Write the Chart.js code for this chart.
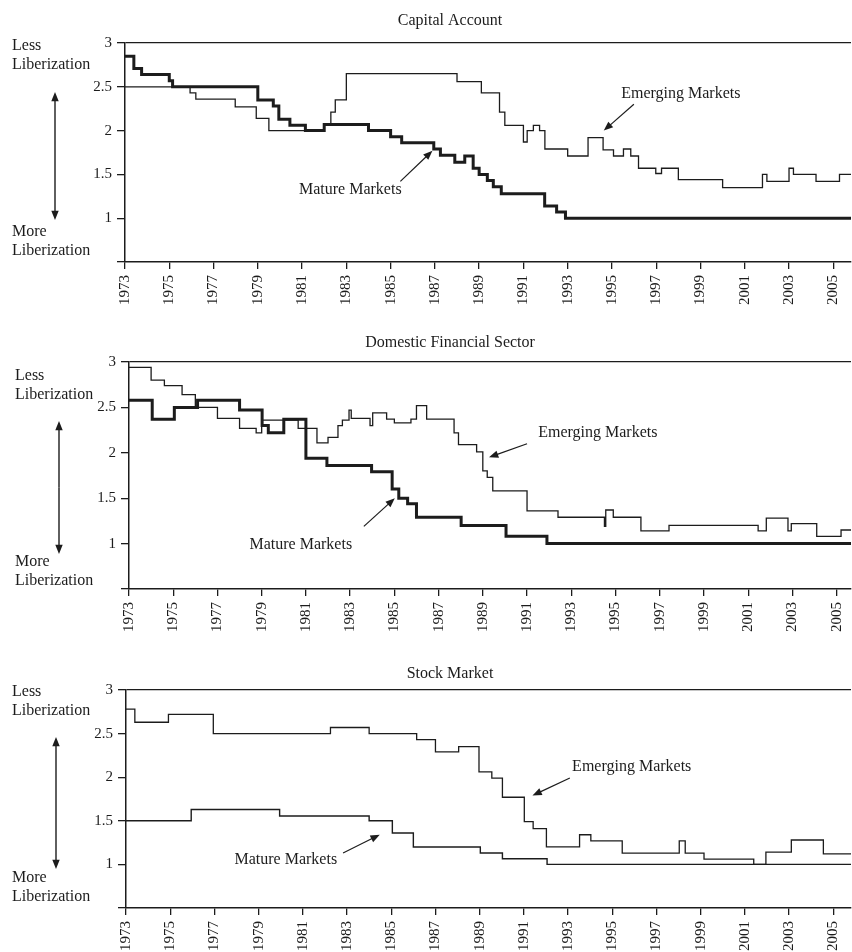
<!DOCTYPE html>
<html>
<head>
<meta charset="utf-8">
<script src="https://cdn.jsdelivr.net/npm/chart.js@4.4.0/dist/chart.umd.min.js"></script>
<style>
  body { margin: 0; background: #fff; }
  .panel { position: absolute; left: 0; width: 852px; }
</style>
</head>
<body>
<div class="panel" style="top:0;height:315px"><canvas id="capitalChart" width="852" height="315"></canvas></div>
<div class="panel" style="top:315px;height:320px"><canvas id="domesticChart" width="852" height="320"></canvas></div>
<div class="panel" style="top:635px;height:317px"><canvas id="stockChart" width="852" height="317"></canvas></div>
<script>
// tick labels
const xTickYears = [1973, 1975, 1977, 1979, 1981, 1983, 1985, 1987, 1989, 1991, 1993, 1995, 1997, 1999, 2001, 2003, 2005];
const yTickValues = [0.5, 1, 1.5, 2, 2.5, 3];

// Capital Account
const capMatureYears = [1973, 1973.4, 1973.75, 1975, 1975.15, 1979, 1979.7, 1979.95, 1980.45, 1981.15, 1982, 1984, 1985, 1985.5, 1986.95, 1987.25, 1987.9, 1988.35, 1988.73, 1989, 1989.37, 1989.64, 1990, 1991.96, 1992.5, 1992.9, 2005.8];
const capMatureValues = [2.85, 2.71, 2.64, 2.57, 2.5, 2.35, 2.28, 2.13, 2.06, 2.0, 2.07, 2.0, 1.93, 1.86, 1.79, 1.72, 1.64, 1.71, 1.57, 1.5, 1.43, 1.36, 1.28, 1.14, 1.07, 1.0, 1.0];
const capEmergingYears = [1973, 1975.94, 1976.2, 1977.98, 1978.93, 1979.5, 1982, 1982.3, 1982.5, 1983, 1988, 1989.1, 1989.92, 1990.16, 1991, 1991.17, 1991.45, 1991.73, 1991.97, 1993, 1993.92, 1994.6, 1995.07, 1995.52, 1995.85, 1996.2, 1996.98, 1997.24, 1998, 2000, 2001.8, 2002, 2003, 2003.2, 2004.22, 2005.28, 2005.8];
const capEmergingValues = [2.5, 2.43, 2.36, 2.27, 2.14, 2.0, 2.07, 2.21, 2.35, 2.65, 2.56, 2.43, 2.21, 2.06, 1.87, 2.0, 2.06, 2.0, 1.79, 1.71, 1.92, 1.78, 1.71, 1.79, 1.71, 1.57, 1.51, 1.57, 1.44, 1.35, 1.5, 1.42, 1.57, 1.5, 1.42, 1.5, 1.5];

// Domestic Financial Sector
const domMatureYears = [1973, 1974.05, 1975.05, 1976.1, 1978, 1979.02, 1979.3, 1980, 1981, 1981.95, 1983.97, 1984.9, 1985.2, 1985.6, 1986, 1988.02, 1990.05, 1991.9, 2005.65];
const domMatureValues = [2.58, 2.37, 2.5, 2.58, 2.47, 2.3, 2.22, 2.37, 1.94, 1.86, 1.79, 1.6, 1.5, 1.44, 1.29, 1.2, 1.08, 1.0, 1.0];
const domEmergingYears = [1973, 1974, 1974.6, 1975.4, 1976, 1977, 1978, 1978.75, 1979, 1980.65, 1981.5, 1982, 1982.45, 1982.65, 1982.95, 1983.05, 1983.9, 1984.02, 1984.65, 1985, 1985.75, 1986, 1986.46, 1987.7, 1987.9, 1988.72, 1989, 1989.2, 1989.45, 1991, 1992.4, 1994.5, 1994.56, 1994.9, 1996.15, 1997.42, 2001.45, 2001.82, 2002.8, 2002.95, 2004.1, 2005.2, 2005.65];
const domEmergingValues = [2.94, 2.8, 2.74, 2.64, 2.5, 2.38, 2.27, 2.22, 2.36, 2.27, 2.11, 2.17, 2.3, 2.36, 2.47, 2.38, 2.3, 2.44, 2.37, 2.33, 2.37, 2.52, 2.37, 2.22, 2.09, 2.01, 1.8, 1.73, 1.58, 1.36, 1.29, 1.19, 1.37, 1.29, 1.14, 1.2, 1.14, 1.28, 1.14, 1.22, 1.08, 1.15, 1.15];

// Stock Market
const stkMatureYears = [1973, 1975.95, 1979.95, 1984, 1985.05, 1986, 1989.03, 1990.03, 1992.05, 2005.8];
const stkMatureValues = [1.5, 1.63, 1.555, 1.5, 1.36, 1.2, 1.13, 1.065, 1.0, 1.0];
const stkEmergingYears = [1973, 1973.4, 1974.92, 1976.95, 1982.25, 1984, 1986.15, 1987, 1988.05, 1988.97, 1989.55, 1990.03, 1991.02, 1991.42, 1992.02, 1993.52, 1994.03, 1995.45, 1998.03, 1998.3, 1999.15, 2001.4, 2001.95, 2003.1, 2004.55, 2005.8];
const stkEmergingValues = [2.78, 2.63, 2.72, 2.5, 2.57, 2.5, 2.43, 2.29, 2.35, 2.06, 1.99, 1.77, 1.49, 1.41, 1.2, 1.34, 1.27, 1.13, 1.27, 1.13, 1.06, 1.0, 1.14, 1.28, 1.12, 1.12];

const INK = '#1c1c1c';
const SERIF = "'Liberation Serif', 'Times New Roman', serif";

function points(xs, ys) {
  return xs.map((x, i) => ({ x: x, y: ys[i] }));
}

function drawArrow(ctx, x1, y1, x2, y2, head) {
  const a = Math.atan2(y2 - y1, x2 - x1);
  ctx.beginPath();
  ctx.moveTo(x1, y1);
  ctx.lineTo(x2 - head * 0.8 * Math.cos(a), y2 - head * 0.8 * Math.sin(a));
  ctx.stroke();
  ctx.beginPath();
  ctx.moveTo(x2, y2);
  ctx.lineTo(x2 - head * Math.cos(a - 0.38), y2 - head * Math.sin(a - 0.38));
  ctx.lineTo(x2 - head * Math.cos(a + 0.38), y2 - head * Math.sin(a + 0.38));
  ctx.closePath();
  ctx.fill();
}

// titles, side labels and the little arrow notes
const decor = {
  id: 'decor',
  afterDraw(chart, args, opts) {
    const ctx = chart.ctx;
    const area = chart.chartArea;
    const xs = chart.scales.x, ys = chart.scales.y;
    ctx.save();
    ctx.fillStyle = INK;
    ctx.strokeStyle = INK;
    ctx.font = '16px ' + SERIF;
    ctx.textBaseline = 'middle';

    ctx.textAlign = 'center';
    ctx.fillText(opts.title, 450, area.top - opts.titleGap);

    const s = opts.side;
    ctx.textAlign = 'left';
    ctx.fillText('Less', s.x, area.top + s.less);
    ctx.fillText('Liberization', s.x, area.top + s.less + 19);
    ctx.fillText('More', s.x, area.top + s.more);
    ctx.fillText('Liberization', s.x, area.top + s.more + 19);
    ctx.lineWidth = 1.4;
    drawArrow(ctx, s.ax, area.top + (s.a1 + s.a2) / 2, s.ax, area.top + s.a1, 10);
    drawArrow(ctx, s.ax, area.top + (s.a1 + s.a2) / 2, s.ax, area.top + s.a2, 10);

    ctx.textAlign = 'center';
    ctx.lineWidth = 1.2;
    opts.notes.forEach(n => {
      ctx.fillText(n.text, xs.getPixelForValue(n.tx), ys.getPixelForValue(n.ty));
      drawArrow(ctx, xs.getPixelForValue(n.from[0]), ys.getPixelForValue(n.from[1]),
        xs.getPixelForValue(n.to[0]), ys.getPixelForValue(n.to[1]), 10);
    });
    ctx.restore();
  }
};

function makePanel(id, mature, emerging, matureWidth, cfg) {
  const canvas = document.getElementById(id);
  new Chart(canvas, {
    type: 'line',
    data: {
      datasets: [
        { data: mature, borderColor: INK, borderWidth: matureWidth, stepped: true, pointRadius: 0, borderJoinStyle: 'miter', fill: false },
        { data: emerging, borderColor: INK, borderWidth: 1.3, stepped: true, pointRadius: 0, borderJoinStyle: 'miter', fill: false }
      ]
    },
    options: {
      responsive: false,
      animation: false,
      layout: { padding: { top: cfg.top, right: 1, left: 0, bottom: 0 } },
      plugins: {
        legend: { display: false },
        tooltip: { enabled: false },
        decor: cfg
      },
      scales: {
        x: {
          type: 'linear',
          min: 1973,
          max: cfg.xMax,
          afterBuildTicks: scale => { scale.ticks = xTickYears.map(v => ({ value: v })); },
          afterFit: scale => {
            scale.height = canvas.height - cfg.bottom;
            scale.paddingLeft = 0;
            scale.paddingRight = 0;
          },
          ticks: {
            autoSkip: false, minRotation: 90, maxRotation: 90, padding: 6,
            color: INK, font: { family: SERIF, size: 15 },
            callback: v => String(v)
          },
          grid: { drawOnChartArea: false, tickLength: 7, tickColor: INK, lineWidth: 1.3 },
          border: { color: INK, width: 1.5 }
        },
        y: {
          min: 0.5,
          max: 3,
          afterBuildTicks: scale => { scale.ticks = yTickValues.map(v => ({ value: v })); },
          afterFit: scale => {
            scale.width = cfg.left;
            scale.paddingTop = 0;
            scale.paddingBottom = 0;
          },
          ticks: {
            padding: 5, color: INK, font: { family: SERIF, size: 15 },
            callback: v => (v === 0.5 ? '' : String(v))
          },
          grid: {
            color: c => (c.tick && c.tick.value === 3 ? INK : 'rgba(0,0,0,0)'),
            tickColor: INK, tickLength: 8, lineWidth: 1.3
          },
          border: { color: INK, width: 1.5 }
        }
      }
    },
    plugins: [decor]
  });
}

makePanel('capitalChart', points(capMatureYears, capMatureValues), points(capEmergingYears, capEmergingValues), 3, {
  title: 'Capital Account', titleGap: 22, top: 43, bottom: 262, left: 125, xMax: 2005.8,
  side: { x: 12, less: 3, more: 189, ax: 55, a1: 49, a2: 177 },
  notes: [
    { text: 'Mature Markets', tx: 1983.18, ty: 1.32, from: [1985.44, 1.42], to: [1986.89, 1.77] },
    { text: 'Emerging Markets', tx: 1998.11, ty: 2.42, from: [1995.99, 2.30], to: [1994.63, 2.0] }
  ]
});

makePanel('domesticChart', points(domMatureYears, domMatureValues), points(domEmergingYears, domEmergingValues), 3, {
  title: 'Domestic Financial Sector', titleGap: 19, top: 47, bottom: 274, left: 129, xMax: 2005.65,
  side: { x: 15, less: 14, more: 200, ax: 59, a1: 59, a2: 192 },
  notes: [
    { text: 'Mature Markets', tx: 1980.77, ty: 0.99, from: [1983.62, 1.19], to: [1985.02, 1.5] },
    { text: 'Emerging Markets', tx: 1994.2, ty: 2.22, from: [1991.0, 2.1], to: [1989.28, 1.95] }
  ]
});

makePanel('stockChart', points(stkMatureYears, stkMatureValues), points(stkEmergingYears, stkEmergingValues), 1.4, {
  title: 'Stock Market', titleGap: 16, top: 55, bottom: 273, left: 126, xMax: 2005.8,
  side: { x: 12, less: 2, more: 188, ax: 56, a1: 47, a2: 179 },
  notes: [
    { text: 'Mature Markets', tx: 1980.23, ty: 1.05, from: [1982.82, 1.13], to: [1984.48, 1.34] },
    { text: 'Emerging Markets', tx: 1995.88, ty: 2.12, from: [1993.08, 1.99], to: [1991.39, 1.79] }
  ]
});
</script>
</body>
</html>
